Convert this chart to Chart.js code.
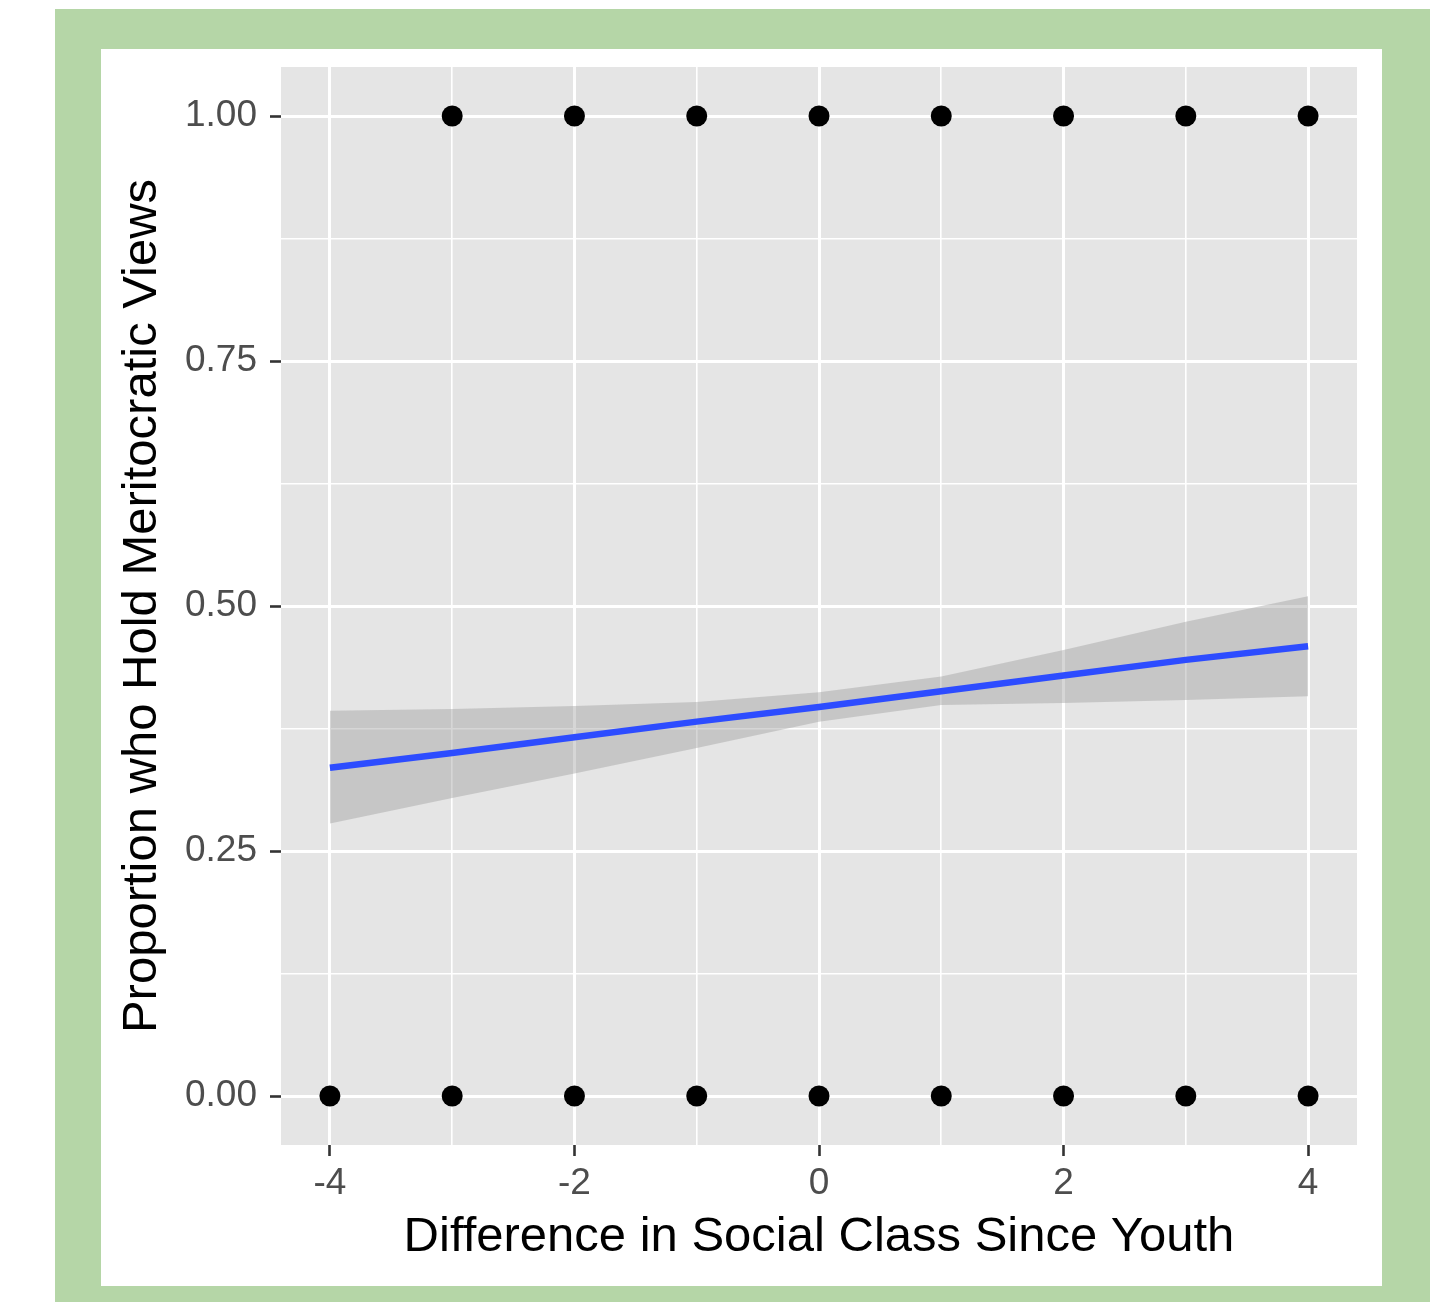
<!DOCTYPE html>
<html>
<head>
<meta charset="utf-8">
<script src="https://cdn.jsdelivr.net/npm/chart.js@4"></script>
<style>
  html, body { margin: 0; padding: 0; background: #ffffff; }
  body { width: 1434px; height: 1302px; position: relative; overflow: hidden; }
  #frame { position: absolute; left: 55px; top: 9px; width: 1375px; height: 1293px; background: #b5d6a7; }
  #panel { position: absolute; left: 101px; top: 49px; width: 1281px; height: 1237px; background: #ffffff; }
  canvas { display: block; }
</style>
</head>
<body>
<div id="frame"></div>
<div id="panel"><canvas id="chart" width="1281" height="1237"></canvas></div>
<script>
// raw observations (0 / 1 outcome at each class difference)
const onesX = [-3, -2, -1, 0, 1, 2, 3, 4];
const zerosX = [-4, -3, -2, -1, 0, 1, 2, 3, 4];

// fitted line and confidence band
const fitX = [-4, -3, -2, -1, 0, 1, 2, 3, 4];
const fitY = [0.335, 0.350, 0.366, 0.382, 0.397, 0.413, 0.429, 0.445, 0.459];
const bandUpper = [0.393, 0.395, 0.398, 0.402, 0.412, 0.428, 0.455, 0.484, 0.510];
const bandLower = [0.278, 0.304, 0.329, 0.355, 0.382, 0.399, 0.401, 0.404, 0.408];

// axis ticks (major get labels, minor only grid lines)
const xTicks = [-4, -3, -2, -1, 0, 1, 2, 3, 4];
const xMajor = [-4, -2, 0, 2, 4];
const yTicks = [0, 0.125, 0.25, 0.375, 0.5, 0.625, 0.75, 0.875, 1];
const yMajor = [0, 0.25, 0.5, 0.75, 1];

const xTitle = 'Difference in Social Class Since Youth';
const yTitle = 'Proportion who Hold Meritocratic Views';

const toXY = (xs, ys) => xs.map((x, i) => ({ x: x, y: ys[i] }));
const isMajor = (list, v) => list.some(m => Math.abs(m - v) < 1e-9);

// gray panel behind the grid
const panelBg = {
    id: 'panelBg',
    beforeDraw(chart) {
        const { ctx, chartArea: a } = chart;
        ctx.save();
        ctx.fillStyle = '#e5e5e5';
        ctx.fillRect(a.left, a.top, a.right - a.left, a.bottom - a.top);
        ctx.restore();
    }
};

const gridFor = (major) => ({
    color: '#ffffff',
    lineWidth: c => isMajor(major, c.tick.value) ? 3 : 1.6,
    tickColor: c => isMajor(major, c.tick.value) ? '#333333' : 'rgba(0,0,0,0)',
    tickWidth: 2.6,
    tickLength: 11,
    drawOnChartArea: true
});

const ctx = document.getElementById('chart').getContext('2d');
const chart = new Chart(ctx, {
    type: 'line',
    data: {
        datasets: [
            {
                label: 'ones',
                data: onesX.map(x => ({ x: x, y: 1 })),
                showLine: false,
                pointRadius: 10.5,
                pointBackgroundColor: '#000000',
                pointBorderWidth: 0
            },
            {
                label: 'zeros',
                data: zerosX.map(x => ({ x: x, y: 0 })),
                showLine: false,
                pointRadius: 10.5,
                pointBackgroundColor: '#000000',
                pointBorderWidth: 0
            },
            {
                label: 'fit',
                data: toXY(fitX, fitY),
                borderColor: '#2d4cff',
                borderWidth: 6.5,
                pointRadius: 0,
                fill: false
            },
            {
                label: 'lower',
                data: toXY(fitX, bandLower),
                borderWidth: 0,
                borderColor: 'rgba(0,0,0,0)',
                pointRadius: 0,
                fill: false
            },
            {
                label: 'upper',
                data: toXY(fitX, bandUpper),
                borderWidth: 0,
                borderColor: 'rgba(0,0,0,0)',
                backgroundColor: 'rgba(153,153,153,0.4)',
                pointRadius: 0,
                fill: '-1'
            }
        ]
    },
    options: {
        responsive: false,
        animation: false,
        layout: { padding: { left: 0, top: 18, right: 25, bottom: 0 } },
        plugins: {
            legend: { display: false },
            tooltip: { enabled: false }
        },
        scales: {
            x: {
                type: 'linear',
                min: -4.4,
                max: 4.4,
                afterBuildTicks: s => { s.ticks = xTicks.map(v => ({ value: v })); },
                afterFit: s => { s.height = 141; s.paddingLeft = 0; s.paddingRight = 0; },
                border: { display: false },
                grid: gridFor(xMajor),
                ticks: {
                    autoSkip: false,
                    maxRotation: 0,
                    padding: 6,
                    color: '#4d4d4d',
                    font: { family: 'Liberation Sans', size: 37 },
                    callback: v => isMajor(xMajor, v) ? String(v) : ''
                },
                title: {
                    display: true,
                    text: xTitle,
                    color: '#000000',
                    font: { family: 'Liberation Sans', size: 49 },
                    padding: { top: 0, bottom: 19 }
                }
            },
            y: {
                type: 'linear',
                min: -0.05,
                max: 1.05,
                afterBuildTicks: s => { s.ticks = yTicks.map(v => ({ value: v })); },
                afterFit: s => { s.width = 180; s.paddingTop = 0; s.paddingBottom = 0; },
                border: { display: false },
                grid: gridFor(yMajor),
                ticks: {
                    autoSkip: false,
                    padding: 13,
                    color: '#4d4d4d',
                    font: { family: 'Liberation Sans', size: 37 },
                    callback: v => isMajor(yMajor, v) ? v.toFixed(2) : ''
                },
                title: {
                    display: true,
                    text: yTitle,
                    color: '#000000',
                    font: { family: 'Liberation Sans', size: 49 },
                    padding: { top: 12, bottom: 0 }
                }
            }
        }
    },
    plugins: [panelBg]
});
</script>
</body>
</html>
